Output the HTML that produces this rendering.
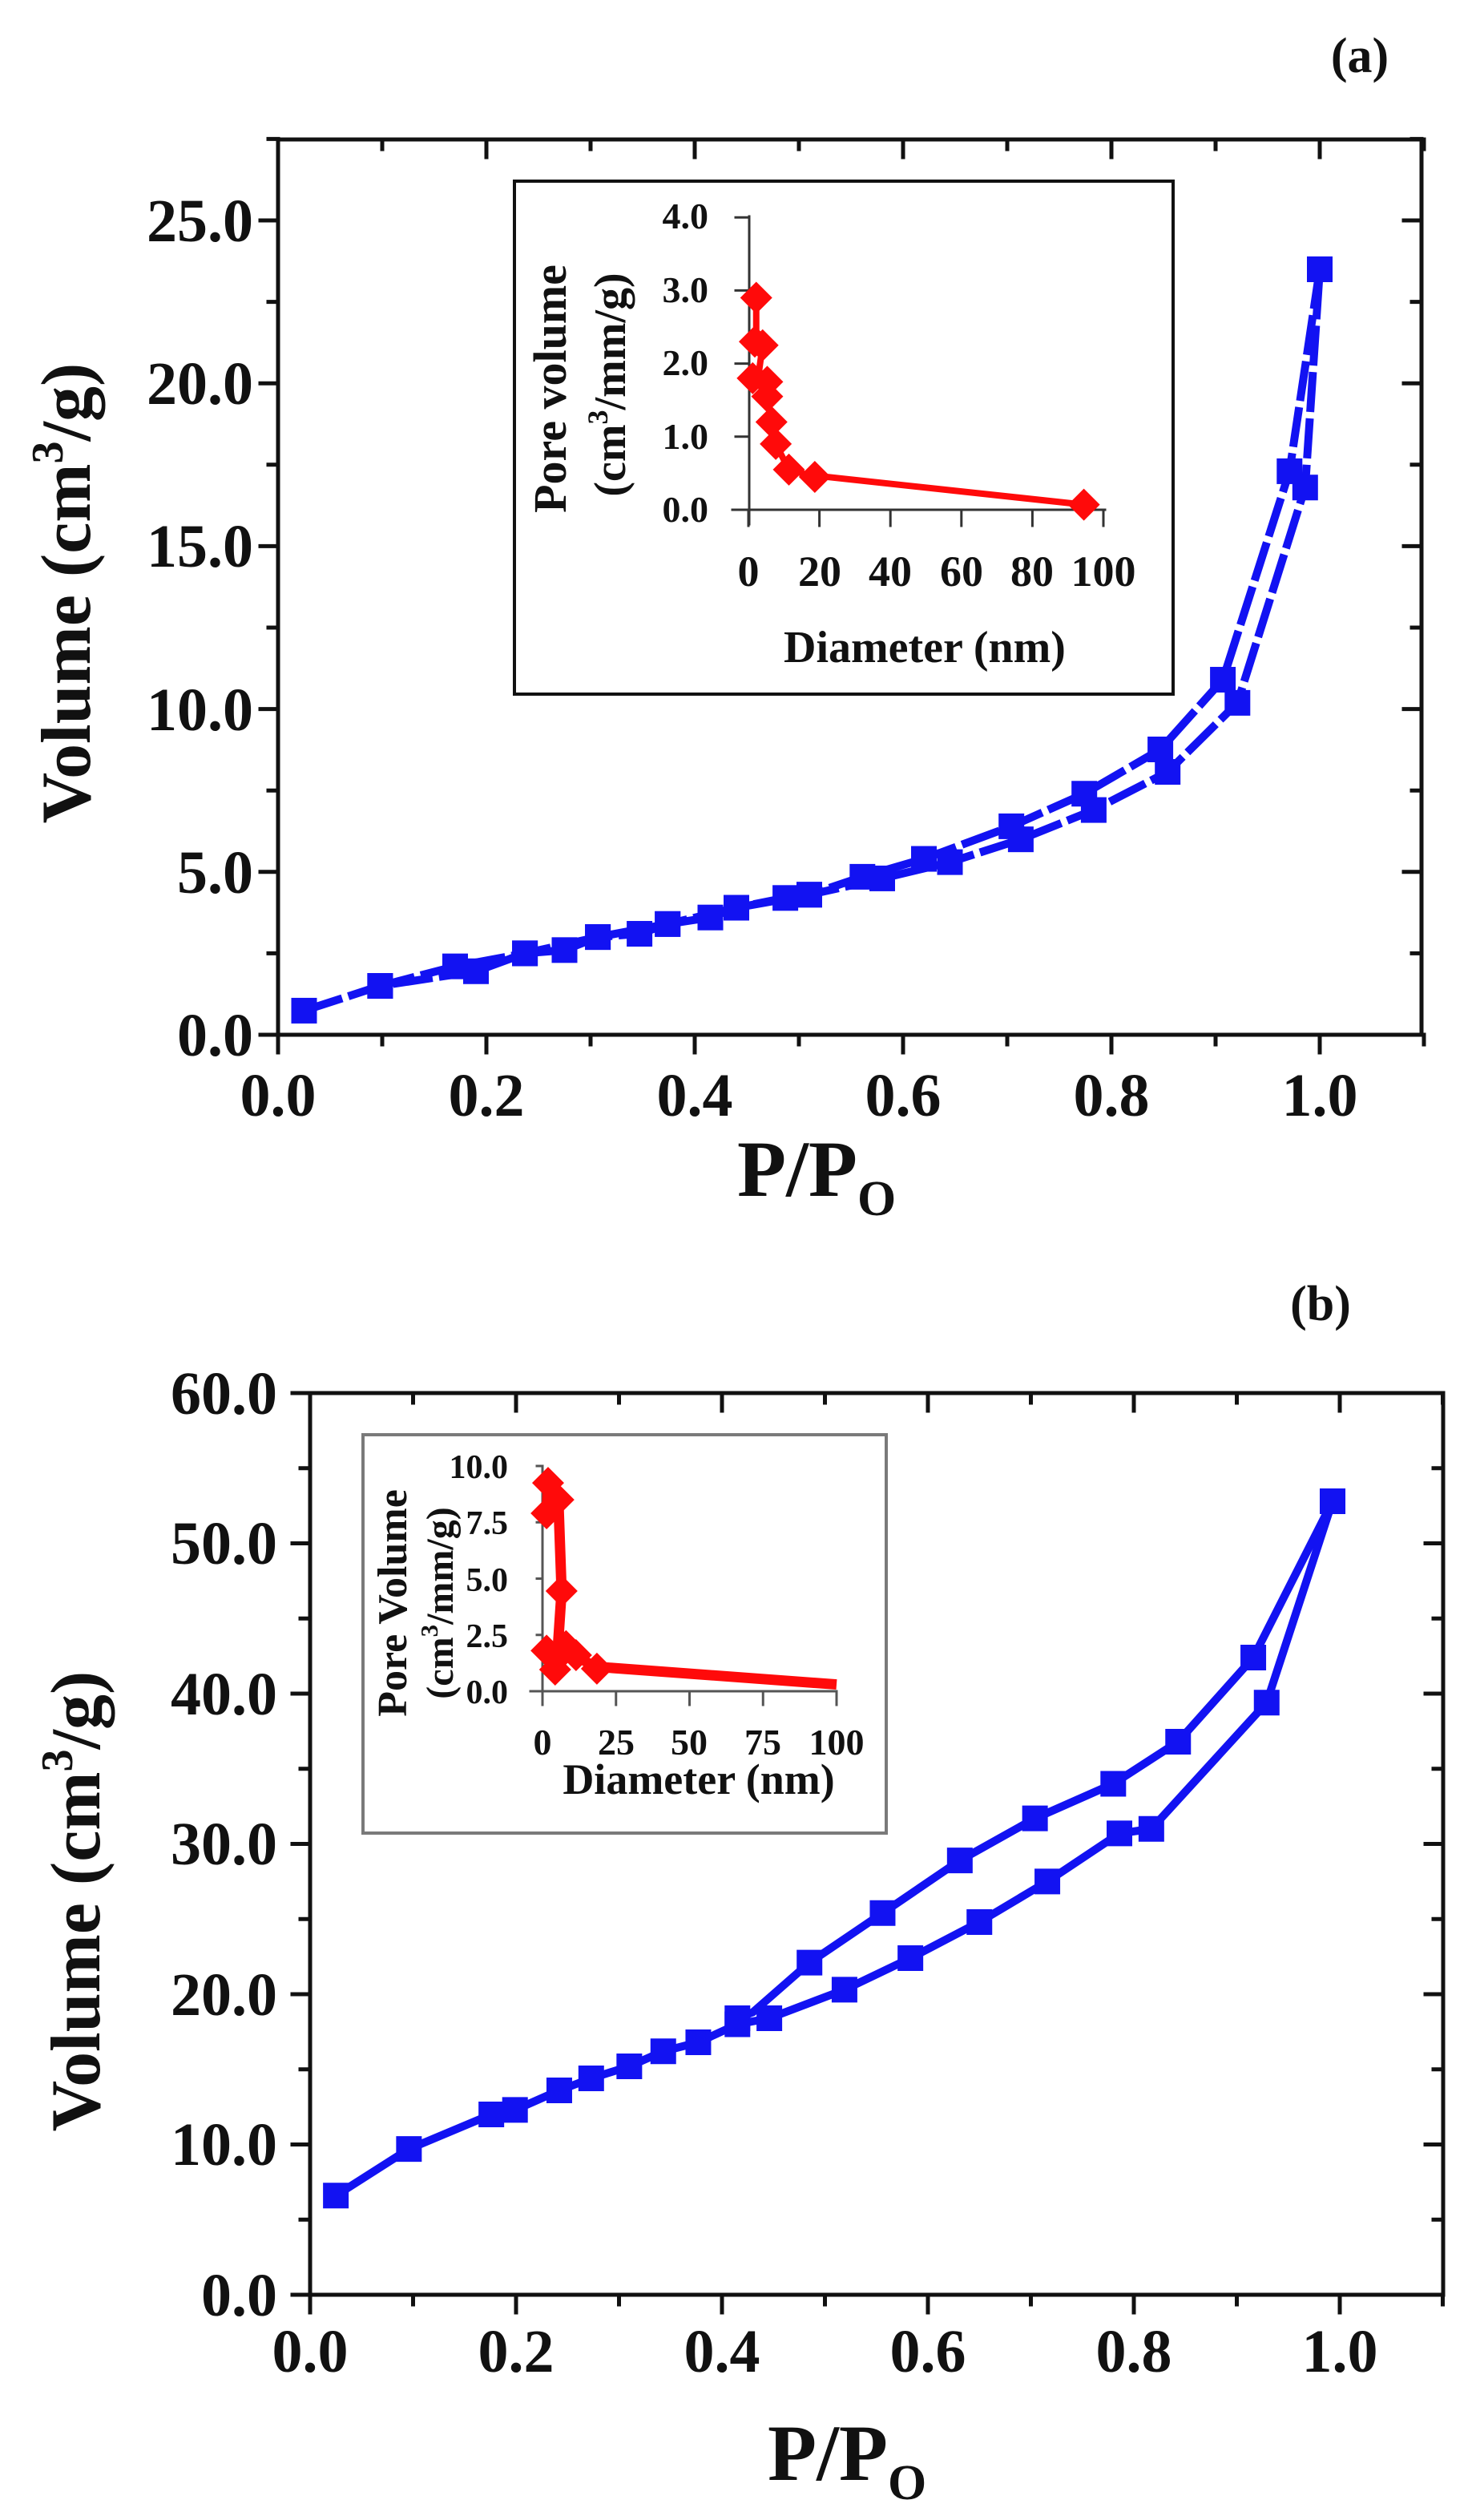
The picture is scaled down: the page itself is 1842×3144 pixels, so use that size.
<!DOCTYPE html>
<html><head><meta charset="utf-8"><style>
html,body{margin:0;padding:0;background:#fff;}
svg{display:block;}
text{font-family:"Liberation Serif","Times New Roman",serif;font-weight:bold;fill:#111;}
</style></head><body>
<svg id="s" width="1842" height="3144" viewBox="0 0 1842 3144" xmlns="http://www.w3.org/2000/svg" font-family="Liberation Serif, serif" font-weight="bold">
<rect width="1842" height="3144" fill="#fff"/>
<g id="marks"></g>
<!-- Plot a text -->
<text x="1697" y="90" font-size="62" text-anchor="middle">(a)</text>
<g font-size="76" text-anchor="end">
<text x="316" y="1317">0.0</text>
<text x="316" y="1114">5.0</text>
<text x="316" y="911">10.0</text>
<text x="316" y="707">15.0</text>
<text x="316" y="504">20.0</text>
<text x="316" y="301">25.0</text>
</g>
<g font-size="76" text-anchor="middle">
<text x="347" y="1392">0.0</text>
<text x="607" y="1392">0.2</text>
<text x="867" y="1392">0.4</text>
<text x="1127" y="1392">0.6</text>
<text x="1387" y="1392">0.8</text>
<text x="1647" y="1392">1.0</text>
</g>
<text transform="translate(112,740) rotate(-90)" font-size="88" text-anchor="middle">Volume (cm<tspan font-size="56" dy="-34">3</tspan><tspan dy="34">/g)</tspan></text>
<text x="920" y="1492" font-size="100">P/P<tspan font-size="62" dy="24">O</tspan></text>
<!-- inset a text -->
<g font-size="46" text-anchor="end">
<text x="884" y="651">0.0</text>
<text x="884" y="560">1.0</text>
<text x="884" y="468">2.0</text>
<text x="884" y="377">3.0</text>
<text x="884" y="285">4.0</text>
</g>
<g font-size="54" text-anchor="middle">
<text x="934" y="731">0</text>
<text x="1023" y="731">20</text>
<text x="1111" y="731">40</text>
<text x="1200" y="731">60</text>
<text x="1288" y="731">80</text>
<text x="1377" y="731">100</text>
</g>
<text x="1154" y="826" font-size="56" text-anchor="middle">Diameter (nm)</text>
<text transform="translate(706,485) rotate(-90)" font-size="58" text-anchor="middle">Pore volume</text>
<text transform="translate(780,480) rotate(-90)" font-size="56" text-anchor="middle">(cm<tspan font-size="36" dy="-22">3</tspan><tspan dy="22">/mm/g)</tspan></text>

<!-- Plot b text -->
<text x="1648" y="1647" font-size="62" text-anchor="middle">(b)</text>
<g font-size="76" text-anchor="end">
<text x="346" y="2889">0.0</text>
<text x="346" y="2701">10.0</text>
<text x="346" y="2514">20.0</text>
<text x="346" y="2326">30.0</text>
<text x="346" y="2139">40.0</text>
<text x="346" y="1951">50.0</text>
<text x="346" y="1764">60.0</text>
</g>
<g font-size="76" text-anchor="middle">
<text x="387" y="2959">0.0</text>
<text x="644" y="2959">0.2</text>
<text x="901" y="2959">0.4</text>
<text x="1158" y="2959">0.6</text>
<text x="1415" y="2959">0.8</text>
<text x="1672" y="2959">1.0</text>
</g>
<text transform="translate(124,2372) rotate(-90)" font-size="88" text-anchor="middle">Volume (cm<tspan font-size="56" dy="-34">3</tspan><tspan dy="34">/g)</tspan></text>
<text x="958" y="3094" font-size="100">P/P<tspan font-size="62" dy="24">O</tspan></text>
<!-- inset b text -->
<g font-size="42" text-anchor="end">
<text x="634" y="2125">0.0</text>
<text x="634" y="2055">2.5</text>
<text x="634" y="1985">5.0</text>
<text x="634" y="1914">7.5</text>
<text x="634" y="1844">10.0</text>
</g>
<g font-size="46" text-anchor="middle">
<text x="677" y="2189">0</text>
<text x="769" y="2189">25</text>
<text x="860" y="2189">50</text>
<text x="952" y="2189">75</text>
<text x="1044" y="2189">100</text>
</g>
<text x="872" y="2238" font-size="54" text-anchor="middle">Diameter (nm)</text>
<text transform="translate(507,2000) rotate(-90)" font-size="52" text-anchor="middle">Pore Volume</text>
<text transform="translate(565,2000) rotate(-90)" font-size="48" text-anchor="middle">(cm<tspan font-size="31" dy="-19">3</tspan><tspan dy="19">/mm/g)</tspan></text>
</svg>
<script>
var NS="http://www.w3.org/2000/svg",G=document.getElementById("marks");
function el(t,a){var e=document.createElementNS(NS,t);for(var k in a)e.setAttribute(k,a[k]);G.appendChild(e);return e;}
function line(x1,y1,x2,y2,w,c){el("line",{x1:x1,y1:y1,x2:x2,y2:y2,stroke:c||"#111","stroke-width":w,"stroke-linecap":"square"});}
function frame(L,T,R,B,Xf,Yf,xmaj,ymaj){
 el("rect",{x:L,y:T,width:R-L,height:B-T,fill:"none",stroke:"#111","stroke-width":5});
 xmaj.forEach(function(v,i){var x=Xf(v);var len=(i%2==0)?22:12;
  line(x,B,x,B+len,5);line(x,T,x,T+len,5);});
 ymaj.forEach(function(v,i){var y=Yf(v);var len=(i%2==0)?22:12;
  line(L,y,L-len,y,5);line(R,y,R-len,y,5);});
}
function poly(pts,Xf,Yf,w,c,dash){var s=pts.map(function(p){return Xf(p[0])+","+Yf(p[1]);}).join(" ");
 var a={points:s,fill:"none",stroke:c,"stroke-width":w,"stroke-linejoin":"round"};if(dash)a["stroke-dasharray"]=dash;el("polyline",a);}
function sq(pts,Xf,Yf,s,c){pts.forEach(function(p){el("rect",{x:Xf(p[0])-s/2,y:Yf(p[1])-s/2,width:s,height:s,fill:c});});}
function dia(pts,Xf,Yf,s,c){pts.forEach(function(p){var x=Xf(p[0]),y=Yf(p[1]);el("polygon",{points:(x)+","+(y-s)+" "+(x+s)+","+y+" "+x+","+(y+s)+" "+(x-s)+","+y,fill:c});});}
var BL="#1212f2",RD="#ff0a0a";
// ---- plot a
var XA=function(v){return 347+v*1300},YA=function(v){return 1291-v*40.64};
var xt=[],yt=[];for(var i=0;i<=11;i++)xt.push(i*0.1);for(i=0;i<=11;i++)yt.push(i*2.5);
frame(347,174,1774,1291,XA,YA,xt,yt);
var adsA=[[0.025,0.74],[0.098,1.5],[0.19,1.95],[0.237,2.5],[0.275,2.6],[0.307,3.0],[0.347,3.1],[0.374,3.4],[0.415,3.6],[0.44,3.9],[0.487,4.2],[0.51,4.3],[0.58,4.8],[0.645,5.3],[0.713,6.0],[0.783,6.9],[0.854,8.07],[0.921,10.19],[0.986,16.8],[1.0,23.5]];
var desA=[[1.0,23.5],[0.971,17.3],[0.907,10.9],[0.847,8.76],[0.774,7.4],[0.704,6.4],[0.62,5.4],[0.561,4.85],[0.51,4.3],[0.44,3.9],[0.374,3.4],[0.307,3.0],[0.237,2.5],[0.17,2.1],[0.098,1.5]];
poly(adsA,XA,YA,10,BL,"50 8");poly(desA,XA,YA,10,BL,"50 8");
sq(adsA,XA,YA,32,BL);sq(desA,XA,YA,32,BL);
// inset a
el("rect",{x:642,y:226,width:822,height:640,fill:"#fff",stroke:"#111","stroke-width":4});
var XI=function(d){return 934+d*4.43},YI=function(v){return 636-v*91.2};
line(914,636,1379,636,3,"#333");line(935,270,935,654,3,"#333");
[0,20,40,60,80,100].forEach(function(d){line(XI(d),636,XI(d),656,3,"#333")});
[0,1,2,3,4].forEach(function(v){line(918,YI(v),935,YI(v),3,"#333")});
var ia=[[2.2,2.9],[1.8,2.3],[4,2.25],[1.2,1.8],[5.3,1.75],[5.3,1.55],[6.5,1.2],[7.7,0.9],[11.4,0.55],[18.7,0.45],[94.5,0.07]];
var ial=[[2.2,2.9],[2.2,2.4],[4,2.25],[3,1.9],[5.3,1.75],[5.3,1.55],[6.5,1.2],[7.7,0.9],[11.4,0.55],[18.7,0.45],[22,0.45],[94.5,0.07]];
poly(ial,XI,YI,8,RD);dia(ia,XI,YI,20,RD);
// ---- plot b
var XB=function(v){return 387+v*1285},YB=function(v){return 2863-v*18.75};
var yb=[];for(i=0;i<=12;i++)yb.push(i*5);
frame(387,1738,1801,2863,XB,YB,xt,yb);
var adsB=[[0.025,6.6],[0.096,9.7],[0.176,12.0],[0.199,12.3],[0.242,13.6],[0.273,14.4],[0.31,15.2],[0.343,16.2],[0.377,16.8],[0.415,18.0],[0.446,18.4],[0.519,20.3],[0.583,22.4],[0.65,24.8],[0.716,27.5],[0.786,30.7],[0.817,31.0],[0.929,39.4],[0.993,52.8]];
var desB=[[0.993,52.8],[0.916,42.4],[0.843,36.8],[0.78,34.0],[0.704,31.7],[0.631,28.9],[0.556,25.4],[0.485,22.1],[0.43,18.8],[0.415,18.4]];
poly(adsB,XB,YB,10,BL);poly(desB,XB,YB,10,BL);
sq(adsB,XB,YB,32,BL);sq(desB.slice(0,8),XB,YB,32,BL);sq([[0.415,18.4]],XB,YB,32,BL);
// inset b
el("rect",{x:453,y:1790,width:653,height:497,fill:"#fff",stroke:"#7a7a7a","stroke-width":4});
var XJ=function(d){return 677+d*3.67},YJ=function(v){return 2110-v*28.1};
line(662,2110,1044,2110,3,"#555");line(677,1829,677,2124,3,"#555");
[0,25,50,75,100].forEach(function(d){line(XJ(d),2110,XJ(d),2127,3,"#555")});
[0,2.5,5,7.5,10].forEach(function(v){line(670,YJ(v),677,YJ(v),3,"#555")});
var ib=[[1.9,9.25],[1.4,7.9],[5.4,8.5],[6.5,4.45],[5,1.5],[1.4,1.8],[4.3,0.96],[8,2],[11.4,1.6],[18.5,1.0],[22,1.05],[100,0.3]];
poly(ib,XJ,YJ,13,RD);dia(ib.slice(0,10),XJ,YJ,20,RD);
</script>
</body></html>
